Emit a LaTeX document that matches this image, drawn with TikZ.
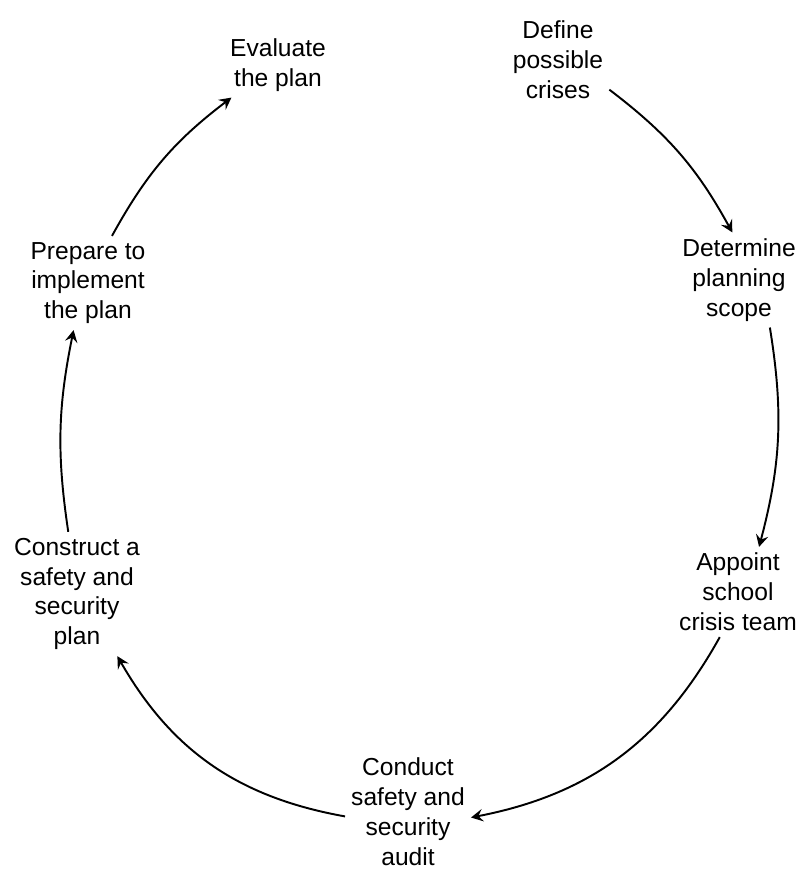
\documentclass[tikz,border=0pt]{standalone}
\usepackage{fontspec}
\setmainfont{Liberation Sans}
\usetikzlibrary{arrows.meta}

\begin{document}
\begin{tikzpicture}[x=0.2mm,y=-0.2mm,
		schritt/.style={align=center,font=\fontsize{14}{17}\selectfont},
		pfeil/.style={->,line width=1.1pt}]
			% Rahmen festlegen
			\useasboundingbox[fill=white] (0,0) rectangle (810,871);
			
			% Schritte eintragen
			\node[schritt] (Evaluate) at (278,65) {Evaluate\\the plan};
			\node[schritt] (Define) at (558,60) {Define\\possible\\crises};
			\node[schritt] (Determine) at (739,280) {Determine\\planning\\scope};
			\node[schritt] (Appoint) at (738,592) {Appoint\\school\\crisis team};
			\node[schritt] (Conduct) at (408,812) {Conduct\\safety and\\security\\audit};
			\node[schritt] (Construct) at (77,594) {Construct a\\safety and\\security\\plan};
			\node[schritt] (Prepare) at (88,283) {Prepare to\\implement\\the plan};
			
			% Pfeile zeichnen
			\begin{scope}[>={Stealth[length=2.4mm,width=2.5mm,inset=0.9mm]}]
				\draw[pfeil] (Define.-30) to[bend left=12] (Determine.98);
				\draw[pfeil] (Determine.-57) to[bend left=12] (Appoint.65);
				\draw[pfeil] (Appoint.-112) to[bend left=25] (Conduct.-5);
				\draw[pfeil] (Conduct.184) to[bend left=25] (Construct.-57);
				\draw[pfeil] (Construct.98) to[bend left=10] (Prepare.-107);
				\draw[pfeil] (Prepare.63) to[bend left=12] (Evaluate.-145);
			\end{scope}
	\end{tikzpicture}
\end{document}
